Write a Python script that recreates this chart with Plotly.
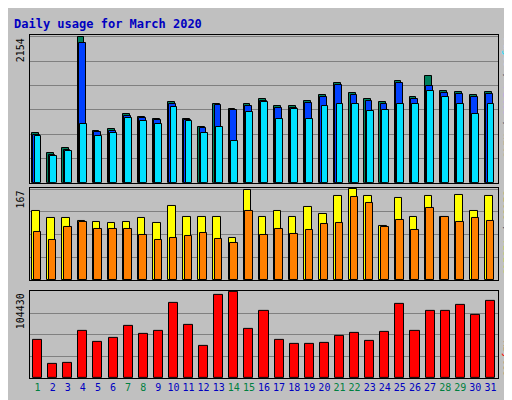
import plotly.graph_objects as go

days = list(range(1, 32))
hits = [728,437,509,2154,771,800,1019,975,946,1193,946,830,1164,1091,1164,1237,1135,1135,1208,1295,1470,1324,1237,1193,1499,1266,1572,1353,1339,1295,1339]
files = [700,410,480,2067,745,770,990,950,920,1165,920,805,1150,1080,1140,1210,1110,1110,1180,1265,1440,1295,1210,1165,1470,1240,1426,1325,1310,1265,1310]
pages = [684,393,466,873,698,728,960,917,873,1120,917,728,829,611,1048,1193,946,1091,946,1135,1164,1164,1062,1077,1164,1164,1353,1266,1164,1019,1164]
visits = [127,113,113,109,107,105,107,113,105,136,116,116,116,78,165,116,127,116,134,122,154,167,154,100,151,116,154,116,156,127,154]
sites = [89,74,98,107,93,93,93,83,74,78,80,87,76,67,127,82,93,85,91,102,105,152,142,98,111,91,132,116,107,114,109]
kbytes = [45600,16800,18000,57600,43200,48000,63600,54000,57600,91200,64800,38400,100800,104430,60000,81600,45600,40800,40800,42000,51600,55200,44400,56400,90000,57600,81600,81600,88800,76800,93600]
weekend = {1,7,8,14,15,21,22,28,29}
ticktext = [f"<span style='color:{'#008040' if d in weekend else '#0000C0'}'>{d}</span>" for d in days]

fig = go.Figure()
def bar(y, color, off, w, xa, ya):
    fig.add_trace(go.Bar(x=days, y=y, marker=dict(color=color, line=dict(color="black", width=1)),
                         offset=off, width=w, xaxis=xa, yaxis=ya, showlegend=False))
bar(hits, "#00805C", -0.35, 0.45, "x", "y")
bar(files, "#0040FF", -0.27, 0.45, "x", "y")
bar(pages, "#00E0FF", -0.19, 0.45, "x", "y")
bar(visits, "#FFFF00", -0.35, 0.5, "x2", "y2")
bar(sites, "#FF8000", -0.25, 0.5, "x2", "y2")
bar(kbytes, "#FF0000", -0.3, 0.6, "x3", "y3")

ax = dict(range=[0.5, 31.5], showgrid=False, zeroline=False, showline=True, linecolor="black", mirror=True, fixedrange=True)
yax = dict(showticklabels=False, gridcolor="#808080", zeroline=False, showline=True, linecolor="black", mirror=True)
fig.update_layout(
    width=512, height=400, paper_bgcolor="#C0C0C0", plot_bgcolor="#C0C0C0",
    margin=dict(l=22, r=22, t=27, b=30), bargap=0,
    font=dict(family="DejaVu Sans Mono", size=11),
    xaxis=dict(**ax, anchor="y", showticklabels=False, ticks=""),
    xaxis2=dict(**ax, anchor="y2", showticklabels=False, ticks=""),
    xaxis3=dict(**ax, anchor="y3", tickvals=days, ticktext=ticktext, ticks="", tickangle=0, tickfont=dict(size=10)),
    yaxis=dict(**yax, domain=[0.569, 1], range=[0, 2180], dtick=2154/6),
    yaxis2=dict(**yax, domain=[0.286, 0.554], range=[0, 169], dtick=167/4),
    yaxis3=dict(**yax, domain=[0, 0.254], range=[0, 105500], dtick=104430/4),
)
ann = []
ann.append(dict(text="<b>Daily usage for March 2020</b>", x=0, xref="paper", xshift=-18, y=1, yref="paper", yshift=20, xanchor="left", yanchor="top", showarrow=False, font=dict(color="#0000C0", size=12, family="DejaVu Sans Mono")))
for yv, ya, lab in [(2154, "y", "2154"), (167, "y2", "167"), (104430, "y3", "104430")]:
    ann.append(dict(text=lab, x=0, xref="paper", xanchor="right", xshift=-2, y=yv, yref=ya, yanchor="top", textangle=-90, showarrow=False, font=dict(size=10, color="black")))
rf = dict(size=10, family="DejaVu Sans Mono")
ann.append(dict(text="<span style='color:#00E0FF'>Pages</span> / <span style='color:#0040FF'>Files</span> / <span style='color:#00805C'>Hits</span>",
                x=1, xref="paper", xanchor="left", xshift=2, y=1, yref="paper", yanchor="top", textangle=90, showarrow=False, font=rf))
ann.append(dict(text="<span style='color:#FF8000'>Sites</span> / <span style='color:#FFFF00'>Visits</span>",
                x=1, xref="paper", xanchor="left", xshift=2, y=0.554, yref="paper", yanchor="top", textangle=90, showarrow=False, font=rf))
ann.append(dict(text="<span style='color:#FF0000'>KBytes</span>",
                x=1, xref="paper", xanchor="left", xshift=2, y=0, yref="paper", yanchor="bottom", textangle=90, showarrow=False, font=rf))
fig.update_layout(annotations=ann)
fig.write_html("out.html")
